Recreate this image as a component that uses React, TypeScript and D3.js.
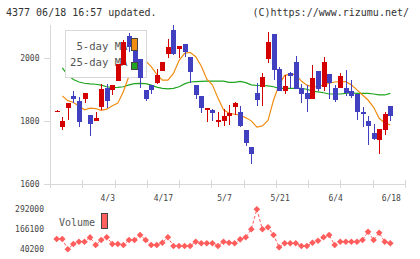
import React, { useRef, useEffect } from "react";
import * as d3 from "d3";

const dates = [
  "3/21", "3/22", "3/25", "3/26", "3/27", "3/28", "3/29",
  "4/1", "4/2", "4/3", "4/4", "4/5", "4/8", "4/9", "4/10", "4/11", "4/12",
  "4/15", "4/16", "4/17", "4/18", "4/19", "4/22", "4/23", "4/24", "4/25", "4/26", "4/30",
  "5/1", "5/2", "5/7", "5/8", "5/9", "5/10", "5/13", "5/14", "5/15", "5/16", "5/17",
  "5/20", "5/21", "5/22", "5/23", "5/24", "5/27", "5/28", "5/29", "5/30", "5/31",
  "6/3", "6/4", "6/5", "6/6", "6/7", "6/10", "6/11", "6/12", "6/13", "6/14", "6/17", "6/18",
];

const tickLabels = ["4/3", "4/17", "5/7", "5/21", "6/4", "6/18"];

const opens = [
  1832, 1780, 1840, 1879, 1863, 1870, 1819, 1798, 1845, 1903, 1899, 1927, 1977, 2070, 2021,
  1995, 1898, 1913, 1921, 1959, 2011, 2087, 2029, 2042, 2003, 1914, 1879, 1833, 1833, 1795,
  1798, 1814, 1845, 1828, 1771, 1718, 1887, 1908, 1995, 2075, 1964, 1896, 1951, 1986, 1903,
  1888, 1870, 1959, 1908, 1948, 1903, 1905, 1904, 1895, 1886, 1828, 1800, 1762, 1740, 1771, 1847,
];
const highs = [
  1833, 1812, 1856, 1895, 1875, 1887, 1819, 1828, 1917, 1917, 1914, 1980, 2056, 2077, 2021,
  1995, 1898, 1913, 1963, 1985, 2060, 2103, 2037, 2042, 2003, 1914, 1879, 1841, 1837, 1827,
  1837, 1850, 1861, 1847, 1771, 1718, 1919, 1953, 2081, 2075, 1972, 1944, 1955, 2005, 1916,
  1912, 1977, 1959, 2002, 1948, 1914, 1953, 1961, 1929, 1886, 1843, 1814, 1790, 1775, 1827, 1847,
];
const lows = [
  1831, 1771, 1803, 1856, 1782, 1856, 1753, 1798, 1835, 1840, 1882, 1927, 1977, 2019, 1980,
  1903, 1864, 1885, 1917, 1959, 2000, 2008, 2000, 2003, 1919, 1869, 1826, 1796, 1798, 1779,
  1784, 1787, 1820, 1782, 1719, 1664, 1847, 1847, 1984, 1929, 1893, 1885, 1903, 1902, 1858,
  1829, 1870, 1893, 1893, 1868, 1860, 1905, 1879, 1872, 1803, 1782, 1724, 1740, 1696, 1756, 1798,
];
const closes = [
  1832, 1800, 1856, 1868, 1795, 1887, 1790, 1809, 1901, 1864, 1914, 1980, 2049, 2035, 1987,
  1935, 1870, 1898, 1944, 1985, 2033, 2011, 2037, 2017, 1954, 1882, 1840, 1841, 1826, 1804,
  1816, 1826, 1856, 1784, 1731, 1694, 1866, 1939, 2049, 1961, 1896, 1909, 1943, 1902, 1885,
  1869, 1936, 1901, 1986, 1921, 1866, 1942, 1887, 1879, 1829, 1823, 1784, 1744, 1775, 1822, 1814,
];

// moving averages
const ma5 = [
  null, 1879, 1864, 1858, 1847, 1835, 1840, 1839, 1833, 1837, 1848, 1856, 1893, 1942, 1985,
  2000, 1990, 1972, 1947, 1929, 1929, 1950, 1991, 2014, 2017, 2003, 1974, 1932, 1914, 1872,
  1835, 1824, 1821, 1818, 1810, 1800, 1780, 1784, 1801, 1866, 1914, 1944, 1948, 1947, 1926,
  1913, 1908, 1908, 1914, 1919, 1923, 1924, 1924, 1914, 1898, 1882, 1866, 1843, 1808, 1793, 1787,
];
const ma25 = [
  null, 1968, 1945, 1931, 1923, 1919, 1917, 1916, 1913, 1908, 1905, 1906, 1908, 1914, 1918,
  1919, 1918, 1913, 1907, 1903, 1901, 1903, 1908, 1917, 1923, 1924, 1925, 1926, 1926, 1926,
  1926, 1922, 1922, 1925, 1921, 1914, 1912, 1912, 1911, 1908, 1903, 1903, 1903, 1903, 1903,
  1900, 1894, 1892, 1889, 1885, 1885, 1885, 1887, 1889, 1887, 1887, 1887, 1885, 1882, 1882, 1887,
];

const volumes = [
  105000, 105000, 40200, 73600, 88000, 88000, 115000, 67300, 98700, 115700, 73600, 73600,
  67300, 98700, 98700, 130200, 98700, 67300, 67300, 81700, 115700, 61000, 61000, 61000,
  61000, 88000, 78000, 78000, 78000, 61000, 88000, 81700, 78000, 103000, 115700, 166100,
  292000, 166100, 178700, 130200, 52800, 78000, 78000, 78000, 61000, 61000, 81700, 94300,
  115700, 130200, 67300, 88000, 88000, 88000, 88000, 98700, 151000, 98700, 144700, 88000, 78000,
];

const priceTicks = [1600, 1800, 2000];
const volumeTicks = [40200, 166100, 292000];

const W = 420;
const H = 259;
const FONT = "'DejaVu Sans Mono', monospace";
const UP = "#d40000";
const DOWN = "#4040c0";

const App = () => {
  const ref = useRef(null);

  useEffect(() => {
    const svg = d3.select(ref.current);
    svg.selectAll("*").remove();

    const x = d3.scalePoint().domain(dates).range([56.7, 390.3]);
    const y = d3.scaleLinear().domain([1600, 2000]).range([184, 57.7]);
    const yv = d3.scaleLinear().domain([40200, 292000]).range([249.3, 209.3]);

    // header
    svg.append("text").attr("x", 6).attr("y", 16).attr("font-size", 10)
      .attr("fill", "#333").style("font-family", FONT)
      .text("4377 06/18 16:57 updated.");
    svg.append("text").attr("x", 409).attr("y", 16).attr("font-size", 10)
      .attr("text-anchor", "end").attr("fill", "#333").style("font-family", FONT)
      .text("(C)https://www.rizumu.net/");

    // axes
    const axis = svg.append("g").attr("stroke", "#d8d8d8").attr("shape-rendering", "crispEdges");
    axis.append("line").attr("x1", 50.5).attr("x2", 50.5).attr("y1", 25).attr("y2", 188);
    axis.append("line").attr("x1", 44).attr("x2", 405).attr("y1", 184.5).attr("y2", 184.5);
    d3.range(12).forEach((i) => {
      const gx = Math.round(50 + (i * 355) / 11) + 0.5;
      axis.append("line").attr("x1", gx).attr("x2", gx).attr("y1", 180).attr("y2", 188);
    });
    priceTicks.forEach((t) => {
      const py = Math.round(y(t)) + 0.5;
      axis.append("line").attr("x1", 44).attr("x2", 50).attr("y1", py).attr("y2", py);
      svg.append("text").attr("x", 39.5).attr("y", y(t) + 3).attr("text-anchor", "end")
        .attr("font-size", 8).attr("fill", "#444").style("font-family", FONT).text(t);
    });

    tickLabels.forEach((d) => {
      svg.append("text").attr("x", x(d) + 1).attr("y", 200.5).attr("text-anchor", "middle")
        .attr("font-size", 8).attr("fill", "#444").style("font-family", FONT).text(d);
    });

    volumeTicks.forEach((t) => {
      svg.append("text").attr("x", 44).attr("y", yv(t) + 3).attr("text-anchor", "end")
        .attr("font-size", 8).attr("fill", "#444").style("font-family", FONT).text(t);
    });

    // moving averages
    const line = d3.line()
      .defined((d) => d[1] != null)
      .x((d) => x(dates[d[0]]))
      .y((d) => y(d[1]));
    svg.append("path").datum(ma25.map((v, i) => [i, v])).attr("d", line)
      .attr("fill", "none").attr("stroke", "#1fa51f").attr("stroke-width", 1.2);
    svg.append("path").datum(ma5.map((v, i) => [i, v])).attr("d", line)
      .attr("fill", "none").attr("stroke", "#f08c10").attr("stroke-width", 1.2);

    // legend box
    svg.append("rect").attr("x", 65.5).attr("y", 30.5).attr("width", 81).attr("height", 47)
      .attr("fill", "#fff").attr("stroke", "#d8d8d8").attr("shape-rendering", "crispEdges");
    svg.append("text").attr("x", 127.5).attr("y", 50).attr("text-anchor", "end")
      .attr("font-size", 10.6).attr("fill", "#555").style("font-family", FONT).text("5-day MA");
    svg.append("text").attr("x", 127.5).attr("y", 66).attr("text-anchor", "end")
      .attr("font-size", 10.6).attr("fill", "#555").style("font-family", FONT).text("25-day MA");

    // candles
    const bw = 5;
    const g = svg.append("g").attr("shape-rendering", "crispEdges");
    dates.forEach((d, i) => {
      const o = opens[i], c = closes[i];
      const col = c >= o ? UP : DOWN;
      const cx = Math.round(x(d));
      g.append("line").attr("x1", cx + 0.5).attr("x2", cx + 0.5)
        .attr("y1", y(highs[i])).attr("y2", y(lows[i])).attr("stroke", col);
      const top = y(Math.max(o, c));
      const h = Math.max(1.5, y(Math.min(o, c)) - top);
      g.append("rect").attr("x", cx - 2).attr("y", top).attr("width", bw).attr("height", h)
        .attr("fill", col);
    });

    // legend swatches
    svg.append("rect").attr("x", 131.5).attr("y", 38.5).attr("width", 6).attr("height", 12)
      .attr("fill", "#f08c10").attr("stroke", "#444").attr("shape-rendering", "crispEdges");
    svg.append("rect").attr("x", 131.5).attr("y", 62.5).attr("width", 6).attr("height", 7)
      .attr("fill", "#1fa51f").attr("stroke", "#444").attr("shape-rendering", "crispEdges");

    // volume
    svg.append("text").attr("x", 59).attr("y", 226).attr("font-size", 10)
      .attr("fill", "#555").style("font-family", FONT).text("Volume");
    svg.append("rect").attr("x", 101.5).attr("y", 213.5).attr("width", 6).attr("height", 15)
      .attr("fill", "#ff6060").attr("stroke", "#444").attr("shape-rendering", "crispEdges");

    const vline = d3.line()
      .x((d, i) => x(dates[i]))
      .y((d) => yv(d));
    svg.append("path").datum(volumes).attr("d", vline).attr("fill", "none")
      .attr("stroke", "#ff5c5c").attr("stroke-width", 1).attr("stroke-dasharray", "3,2");
    svg.append("g").selectAll("path").data(volumes).enter().append("path")
      .attr("d", d3.symbol(d3.symbolDiamond2, 28))
      .attr("transform", (d, i) => `translate(${x(dates[i])},${yv(d)})`)
      .attr("fill", "#ff5c5c");
  }, []);

  return (
    <svg
      ref={ref}
      width={W}
      height={H}
      style={{ position: "absolute", left: 0, top: 0, background: "#fff" }}
    />
  );
};

export default App;
